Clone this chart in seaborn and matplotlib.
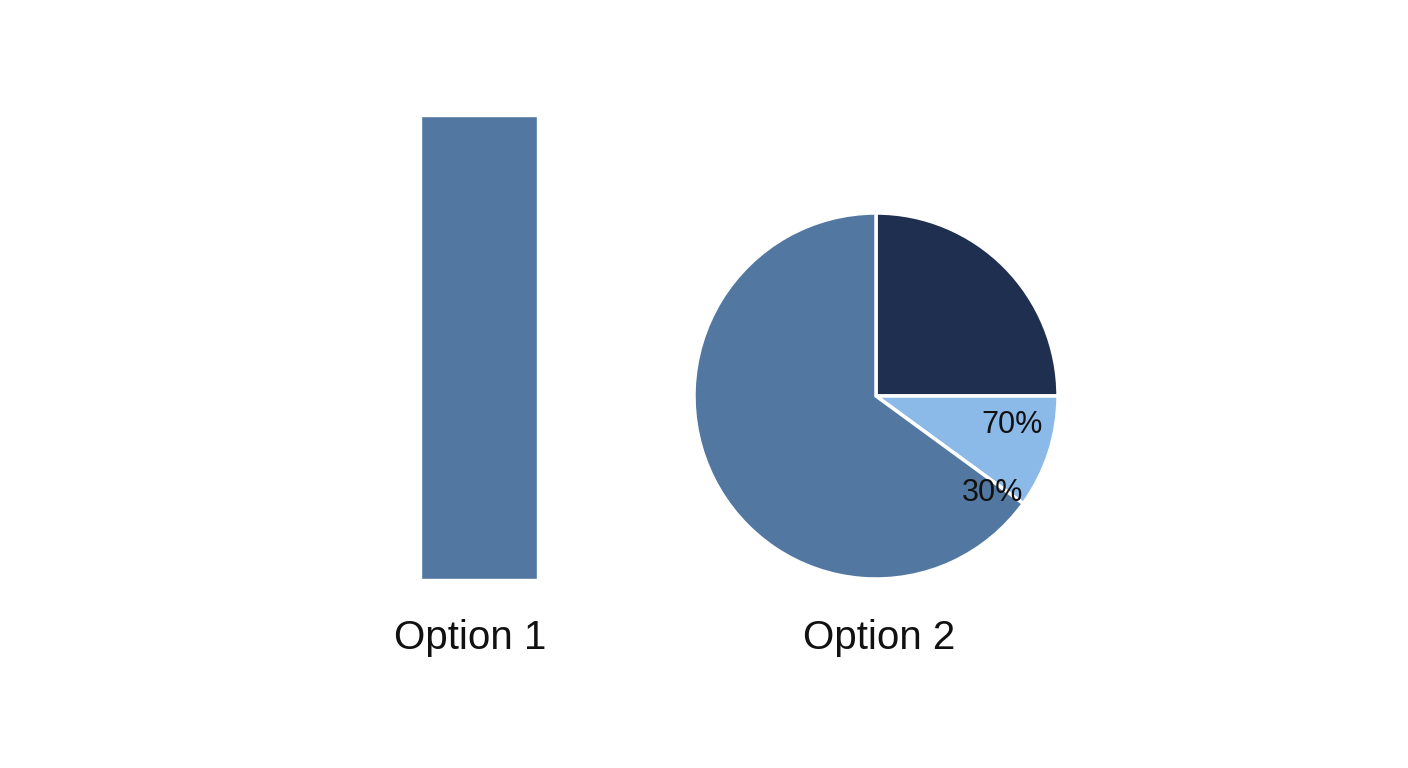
import matplotlib
matplotlib.use("Agg")
import matplotlib.pyplot as plt
import seaborn as sns
import pandas as pd

# chart data
bar_categories = ["Option 1"]
bar_values = [100]

pie_segments = ["Segment A", "Segment B", "Segment C"]
pie_shares = [25, 10, 65]
pie_text_labels = ["70%", "30%"]
option_labels = ["Option 1", "Option 2"]

BAR_COLOR = "#5277a1"
PIE_COLORS = ["#1f2f4f", "#8bb9e8", "#5277a1"]

W, H = 1408, 768

sns.set_theme(style="white")
plt.rcParams["font.family"] = ["Liberation Sans", "DejaVu Sans"]

fig = plt.figure(figsize=(W / 100, H / 100), dpi=100)
fig.patch.set_facecolor("white")


def px_box(x0, y0, x1, y1):
    """Convert pixel box (top-left origin) to figure fraction rect."""
    return [x0 / W, 1 - y1 / H, (x1 - x0) / W, (y1 - y0) / H]


# bar panel
ax_bar = fig.add_axes(px_box(421, 116, 537, 579))
df_bar = pd.DataFrame({"option": bar_categories, "value": bar_values})
sns.barplot(data=df_bar, x="option", y="value", color=BAR_COLOR,
            width=1.0, saturation=1, ax=ax_bar)
ax_bar.set_xlim(-0.5, 0.5)
ax_bar.set_ylim(0, max(bar_values))
ax_bar.axis("off")

# pie panel
ax_pie = fig.add_axes(px_box(694, 213, 1058, 579))
ax_pie.pie(pie_shares, colors=PIE_COLORS, startangle=90, counterclock=False,
           radius=1, wedgeprops=dict(edgecolor="white", linewidth=2.5))
ax_pie.set_xlim(-1.0, 1.0)
ax_pie.set_ylim(-1.0, 1.0)
ax_pie.set_aspect("auto")
ax_pie.axis("off")

label_pos = [(0.75, -0.16), (0.64, -0.53)]
for txt, (lx, ly) in zip(pie_text_labels, label_pos):
    ax_pie.text(lx, ly, txt, ha="center", va="center", fontsize=22, color="#111111")

# option captions
for txt, cx in zip(option_labels, [470, 879]):
    fig.text(cx / W, 1 - 638 / H, txt, ha="center", va="center",
             fontsize=29, color="#111111")

fig.savefig("out.png", dpi=100, facecolor="white")
